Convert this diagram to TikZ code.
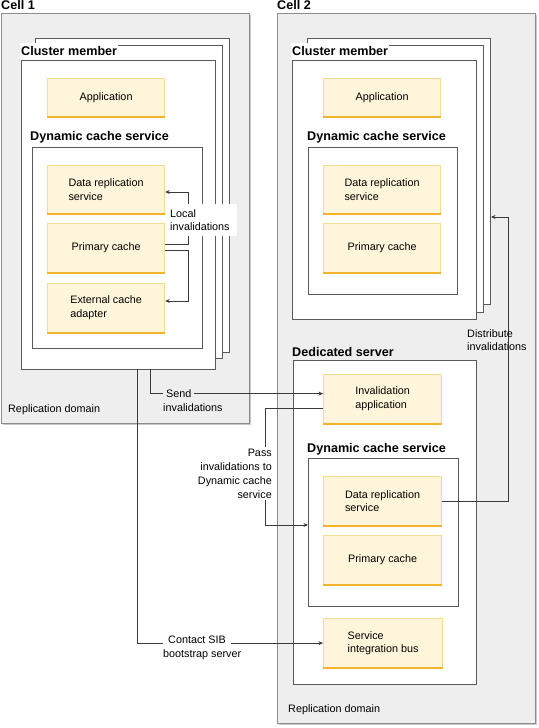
\documentclass[tikz,border=0pt]{standalone}
\usepackage{fontspec}
\setmainfont{Liberation Sans}
\usetikzlibrary{arrows.meta,calc}
\definecolor{cellfill}{HTML}{EEEEEE}
\definecolor{cellline}{HTML}{8C8C8C}
\definecolor{cellshadow}{HTML}{C8C8C8}
\definecolor{pageline}{HTML}{5A5A5A}
\definecolor{compfill}{HTML}{FEF5DA}
\definecolor{compline}{HTML}{F8DB92}
\definecolor{compbot}{HTML}{F1B22E}
\definecolor{connline}{HTML}{3A3A3A}
\newcommand\dfbody{\fontsize{10.8}{13.8}\selectfont}
\newcommand\dftitle{\fontsize{12.6}{15}\selectfont\bfseries}
\begin{document}
\begin{tikzpicture}[x=1pt,y=-1pt,
 cellbox/.style={fill=cellfill,draw=cellline,line width=0.8pt},
 shadowbox/.style={fill=cellshadow},
 pagebox/.style={fill=white,draw=pageline,line width=0.8pt},
 comp/.style={rectangle,fill=compfill,draw=compline,line width=1.2pt,minimum width=117pt,minimum height=49pt,anchor=north west,align=left,font=\dfbody,inner sep=0pt,
   append after command={(\tikzlastnode.south west) edge[draw=compbot,line width=2pt] (\tikzlastnode.south east)}},
 title/.style={anchor=base west,font=\dftitle,inner sep=0pt},
 plain/.style={font=\dfbody,inner sep=0pt,anchor=base west},
 conn/.style={draw=connline,line width=0.7pt},
 arr/.style={conn,-{Stealth[length=4.5pt,width=4pt]}},
 lbl/.style={font=\dfbody,align=left,inner sep=0pt,anchor=north west},
]
\useasboundingbox (0,0) rectangle (538,728);

% ---------------- Cell 1 ----------------
\fill[shadowbox] (3,15) rectangle (251,425);
\draw[cellbox] (1,13) rectangle (249,423);
\node[title] (cell1) at (1,9.5) {Cell 1};
\draw[pagebox] (35,38) rectangle (229,352);
\draw[pagebox] (28,45) rectangle (222,358);
\draw[pagebox] (21,60) rectangle (215,369);
\node[title,anchor=south west,fill=white,inner xsep=1pt,minimum height=17pt] (cm1) at (20,60) {Cluster member};
\node[comp,minimum height=38pt,align=center] (app1) at (47,78) {Application};
\node[title] (dcs1lbl) at (30,140) {Dynamic cache service};
\draw[pagebox] (32,147) rectangle (202,348);
\node[comp,minimum height=48pt] (drs1) at (47,165) {Data replication\\service};
\node[comp,align=center] (pc1) at (47,223) {Primary cache};
\node[comp] (eca1) at (47,283) {External cache\\adapter};
\node[plain] (rd1) at (8,412) {Replication domain};

% ---------------- Cell 2 ----------------
\fill[shadowbox] (279,15) rectangle (537,725);
\draw[cellbox] (277,13) rectangle (535,723);
\node[title] (cell2) at (277,9.5) {Cell 2};
\draw[pagebox] (307,38) rectangle (490,304);
\draw[pagebox] (299,45) rectangle (483,312);
\draw[pagebox] (292,60) rectangle (476,319);
\node[title,anchor=south west,fill=white,inner xsep=1pt,minimum height=17pt] (cm2) at (291,60) {Cluster member};
\node[comp,minimum height=38pt,align=center] (app2) at (323,78) {Application};
\node[title] (dcs2lbl) at (307,140) {Dynamic cache service};
\draw[pagebox] (308,147) rectangle (457,294);
\node[comp,minimum height=48pt] (drs2) at (323,165) {Data replication\\service};
\node[comp,align=center] (pc2) at (323,223) {Primary cache};

\node[title] (dslbl) at (292,356) {Dedicated server};
\draw[pagebox] (293,360) rectangle (476,684);
\node[comp,minimum width=118pt] (invapp) at (323,374) {Invalidation\\application};
\node[title] (dcs3lbl) at (307,452) {Dynamic cache service};
\draw[pagebox] (308,458) rectangle (458,606);
\node[comp,minimum width=118pt] (ddrs) at (323,476) {Data replication\\service};
\node[comp,minimum width=118pt,align=center] (dpc) at (323,535) {Primary cache};
\node[comp,minimum width=119pt] (sib) at (323,618) {Service\\integration bus};
\node[plain] (rd2) at (288,712) {Replication domain};

% ---------------- Connectors ----------------
\coordinate (la1) at (188,192);
\coordinate (la2) at (188,301);
\draw[arr] ([yshift=3.5pt]pc1.east) -| (la1) -- (drs1.east |- la1);
\draw[arr] ([yshift=-2.5pt]pc1.east) -| (la2) -- (eca1.east |- la2);

\coordinate (sendstart) at (150,369);
\draw[arr] (sendstart) |- ([yshift=5.5pt]invapp.west);

\coordinate (passcorner) at (265,525);
\coordinate (passend) at (308,525);
\draw[arr] ([yshift=-9.5pt]invapp.west) -| (passcorner) -- (passend);

\coordinate (distcorner) at (508,217);
\coordinate (distend) at (491,217);
\draw[arr] (ddrs.east) -| (distcorner) -- (distend);

\coordinate (sibstart) at (137,369);
\draw[arr] (sibstart) |- (sib.west);

% ---------------- Labels ----------------
\node[lbl,fill=white,text width=65pt,inner xsep=2pt,inner ysep=5pt] (locallbl) at (168,204) {Local\\invalidations};
\node[plain,fill=cellfill,inner xsep=3pt,inner ysep=2pt] (sendlbl) at (163,397) {Send};
\node[plain] (sendlbl2) at (163,411) {invalidations};
\node[lbl,align=right,anchor=north east,fill=white,inner xsep=2pt,inner ysep=2pt] (passlbl) at (274,447) {Pass\\invalidations to\\Dynamic cache\\service};
\node[lbl] (distlbl) at (467,329) {Distribute\\invalidations};
\node[plain,fill=white,inner xsep=5pt,inner ysep=2pt] (siblbl) at (163,643) {Contact SIB};
\node[plain] (siblbl2) at (163,657) {bootstrap server};
\end{tikzpicture}
\end{document}
